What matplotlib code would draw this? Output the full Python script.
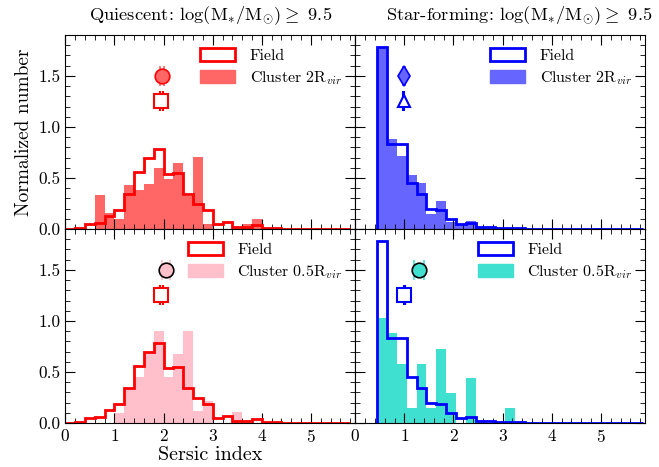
import numpy as np
import matplotlib
matplotlib.use("Agg")
import matplotlib.pyplot as plt
from matplotlib.patches import Patch

plt.rcParams['font.family'] = 'serif'
plt.rcParams['font.serif'] = ['cmr10']
plt.rcParams['mathtext.fontset'] = 'cm'
plt.rcParams['axes.formatter.use_mathtext'] = True
plt.rcParams['axes.unicode_minus'] = False

# bin edges (width 0.2)
edges_q = np.round(np.arange(0.0, 5.81, 0.2), 2)
edges_sf = np.round(np.arange(0.45, 5.86, 0.2), 2)

# quiescent histograms
field_q = [0.005, 0.01, 0.05, 0.06, 0.13, 0.19, 0.34, 0.56, 0.70, 0.78,
           0.54, 0.55, 0.34, 0.25, 0.19, 0.05, 0.07, 0.02, 0.02, 0.04,
           0.01, 0.01, 0.005, 0.005, 0.005, 0.005, 0.005, 0.005, 0.005]
cluster2_q = [0, 0, 0, 0.33, 0.16, 0.10, 0.43, 0.38, 0.44, 0.60,
              0.49, 0.65, 0.32, 0.71, 0.05, 0, 0, 0, 0.05, 0.10,
              0, 0, 0, 0, 0, 0, 0, 0, 0]
cluster05_q = [0, 0, 0, 0, 0, 0.10, 0.33, 0.45, 0.68, 0.90,
               0.45, 0.68, 0.90, 0.12, 0.22, 0, 0, 0.11, 0, 0,
               0, 0, 0, 0, 0, 0, 0, 0, 0]

# star-forming histograms
field_sf = [1.78, 0.83, 0.83, 0.45, 0.34, 0.20, 0.19, 0.10, 0.05, 0.06,
            0.02, 0.02, 0.01, 0.01, 0.01, 0.005, 0.005, 0.005, 0.005, 0.005,
            0.005, 0.005, 0.005, 0.005, 0.005, 0.005, 0.005]
cluster2_sf = [1.78, 0.88, 0.72, 0.53, 0.45, 0.15, 0.27, 0.07, 0.05, 0.08,
               0.01, 0.01, 0.01, 0.005, 0.005, 0, 0, 0, 0, 0,
               0, 0, 0.01, 0, 0, 0, 0]
cluster05_sf = [1.03, 0.88, 0.58, 0.15, 0.58, 0.15, 0.73, 0.29, 0, 0.44,
                0, 0, 0, 0.15, 0, 0, 0, 0, 0, 0,
                0, 0, 0, 0, 0, 0, 0]

# median points (x, y, xerr)
med_field_q = (1.95, 1.25, 0.03)
med_cl2_q = (1.97, 1.50, 0.04)
med_cl05_q = (2.05, 1.50, 0.08)
med_field_sf = (0.99, 1.25, 0.01)
med_field_sf2 = (1.00, 1.25, 0.01)
med_cl2_sf = (0.99, 1.50, 0.02)
med_cl05_sf = (1.29, 1.50, 0.10)

fig, axes = plt.subplots(2, 2, figsize=(6.59, 4.67), dpi=100, sharex=True, sharey=True)
fig.subplots_adjust(left=0.099, right=0.979, bottom=0.094, top=0.925, wspace=0, hspace=0)


def panel(ax, edges, field, cluster, fcol, ccol, label, field_pt, cl_pt,
          fmark, cmark, cedge, fms=9.5, cms=10.5):
    ax.bar(edges[:-1], cluster, width=0.2, align='edge', color=ccol, lw=0, zorder=1)
    ax.stairs(field, edges, color=fcol, lw=2, baseline=0, zorder=2)
    x, y, e = field_pt
    ax.errorbar(x, y, xerr=e, fmt=fmark, ms=fms, mfc='white', mec=fcol, mew=1.5,
                ecolor=fcol, elinewidth=1.5, capsize=7.5, capthick=1.5, zorder=4)
    x, y, e = cl_pt
    ax.errorbar(x, y, xerr=e, fmt=cmark, ms=cms, mfc=ccol, mec=cedge, mew=1.2,
                ecolor=ccol, elinewidth=1.5, capsize=7.5, capthick=1.5, zorder=4)
    handles = [Patch(facecolor='white', edgecolor=fcol, lw=2),
               Patch(facecolor=ccol, edgecolor=ccol)]
    ax.legend(handles, ['Field', label], loc='upper right', frameon=False,
              fontsize=11.5, handlelength=2.2, handleheight=0.9, borderaxespad=0.4,
              labelspacing=0.4, handletextpad=0.9)


panel(axes[0, 0], edges_q, field_q, cluster2_q, 'red', (1, 0.4, 0.4),
      r'Cluster 2R$_{vir}$', med_field_q, med_cl2_q, 's', 'o', (1, 0, 0))
panel(axes[0, 1], edges_sf, field_sf, cluster2_sf, 'blue', (0.4, 0.4, 1),
      r'Cluster 2R$_{vir}$', med_field_sf, med_cl2_sf, '^', 'd', (0, 0, 1),
      fms=9, cms=10.5)
panel(axes[1, 0], edges_q, field_q, cluster05_q, 'red', 'pink',
      r'Cluster 0.5R$_{vir}$', med_field_q, med_cl05_q, 's', 'o', 'black')
panel(axes[1, 1], edges_sf, field_sf, cluster05_sf, 'blue', 'turquoise',
      r'Cluster 0.5R$_{vir}$', med_field_sf2, med_cl05_sf, 's', 'o', 'black')

for ax in axes.flat:
    ax.set_xlim(0, 5.9)
    ax.set_ylim(0, 1.9)
    ax.set_xticks([0, 1, 2, 3, 4, 5])
    ax.set_yticks([0.0, 0.5, 1.0, 1.5])
    ax.xaxis.set_minor_locator(matplotlib.ticker.MultipleLocator(0.2))
    ax.yaxis.set_minor_locator(matplotlib.ticker.MultipleLocator(0.1))
    ax.tick_params(which='both', direction='in', top=True, right=True, labelsize=12.5)
    ax.tick_params(which='major', length=7)
    ax.tick_params(which='minor', length=3.5)
    ax.yaxis.set_major_formatter(matplotlib.ticker.FormatStrFormatter('%.1f'))

axes[0, 0].set_title(r'Quiescent: log(M$_{*}$/M$_{\odot}$)$\geq$ 9.5', fontsize=13.3, pad=11)
axes[0, 1].set_title(r'Star-forming: log(M$_{*}$/M$_{\odot}$)$\geq$ 9.5', fontsize=13.3,
                     pad=11, x=0.565)
axes[0, 0].set_ylabel('Normalized number', fontsize=14)
axes[1, 0].set_xlabel('Sersic index', fontsize=14.5, labelpad=1)

plt.savefig('out.png', dpi=100)
